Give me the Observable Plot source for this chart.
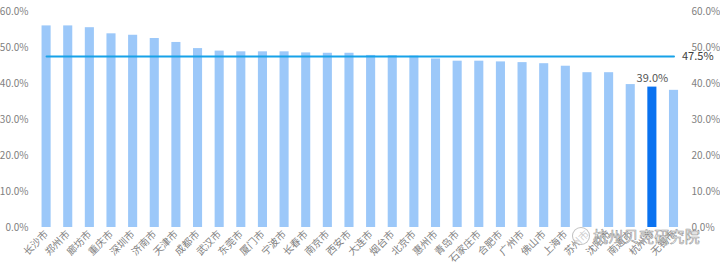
<!DOCTYPE html>
<html>
<head>
<meta charset="utf-8">
<script src="https://cdn.jsdelivr.net/npm/d3@7"></script>
<script src="https://cdn.jsdelivr.net/npm/@observablehq/plot@0.6"></script>
<style>
  html, body { margin: 0; padding: 0; background: #fff; }
  #wrap { position: relative; width: 720px; height: 270px; font-family: "Noto Sans CJK SC", "Noto Sans", sans-serif; }
  #wm { position: absolute; left: 572px; top: 226px; display: flex; align-items: center; gap: 3px; pointer-events: none; white-space: nowrap; }
  #wm .icon { width: 16px; height: 16px; border-radius: 50%; border: 1.2px solid rgba(150,150,150,0.6); background: rgba(255,255,255,0.6); }
  #wm .txt { font-size: 15px; line-height: 19px; color: rgba(255,255,255,0.85); -webkit-text-stroke: 0.6px rgba(125,125,125,0.8); letter-spacing: 0.3px; font-family: "Noto Sans CJK SC", sans-serif; white-space: nowrap; }
</style>
</head>
<body>
<div id="wrap"><div id="chart"></div><div id="wm"><div class="icon"></div><div class="txt">杭州贝壳研究院</div></div></div>
<script>
const cities = ["长沙市","郑州市","廊坊市","重庆市","深圳市","济南市","天津市","成都市","武汉市","东莞市",
  "厦门市","宁波市","长春市","南京市","西安市","大连市","烟台市","北京市","惠州市","青岛市",
  "石家庄市","合肥市","广州市","佛山市","上海市","苏州市","沈阳市","南通市","杭州市","无锡市"];
const values = [56.0,56.0,55.5,53.8,53.4,52.5,51.4,49.7,49.0,48.8,
  48.8,48.8,48.5,48.4,48.4,47.8,47.7,47.6,46.8,46.2,
  46.2,46.0,45.8,45.5,44.8,43.0,43.0,39.7,39.0,38.1];
const highlight = "杭州市";
const average = 47.5;
const yTicks = [0,10,20,30,40,50,60];

const data = cities.map((c, i) => ({city: c, value: values[i]}));
const avgLine = [{city: cities[0], value: average}, {city: cities[cities.length - 1], value: average}];
const fmt = d => d.toFixed(1) + "%";

const chart = Plot.plot({
  width: 720,
  height: 270,
  marginTop: 11,
  marginBottom: 43,
  marginLeft: 33,
  marginRight: 33,
  style: {fontFamily: "'Noto Sans CJK SC', 'Noto Sans', sans-serif", fontSize: "10px", color: "#7f7f7f", background: "transparent"},
  x: {domain: cities, range: [29, 690.6], padding: 0.58, round: false, label: null},
  y: {domain: [0, 60], label: null},
  marks: [
    Plot.barY(data, {x: "city", y: "value", fill: d => d.city === highlight ? "#0a72f0" : "#9cc8f9"}),
    Plot.lineY(avgLine, {x: "city", y: "value", stroke: "#17a2e8", strokeWidth: 2}),
    Plot.text(avgLine.slice(1), {x: "city", y: "value", text: d => fmt(d.value), textAnchor: "start", dx: 8, fill: "#404040", fontSize: 11}),
    Plot.text(data.filter(d => d.city === highlight), {x: "city", y: "value", text: d => fmt(d.value), dy: -9, fill: "#555", fontSize: 11}),
    Plot.axisY({anchor: "left", ticks: yTicks, tickFormat: fmt, tickSize: 0, tickPadding: 5, fill: "#7f7f7f"}),
    Plot.axisY({anchor: "right", ticks: yTicks, tickFormat: fmt, tickSize: 0, tickPadding: 4, fill: "#7f7f7f"}),
    Plot.axisX({tickRotate: -45, tickSize: 0, tickPadding: 5, fill: "#7f7f7f", fontSize: 10})
  ]
});
document.getElementById("chart").appendChild(chart);
</script>
</body>
</html>
